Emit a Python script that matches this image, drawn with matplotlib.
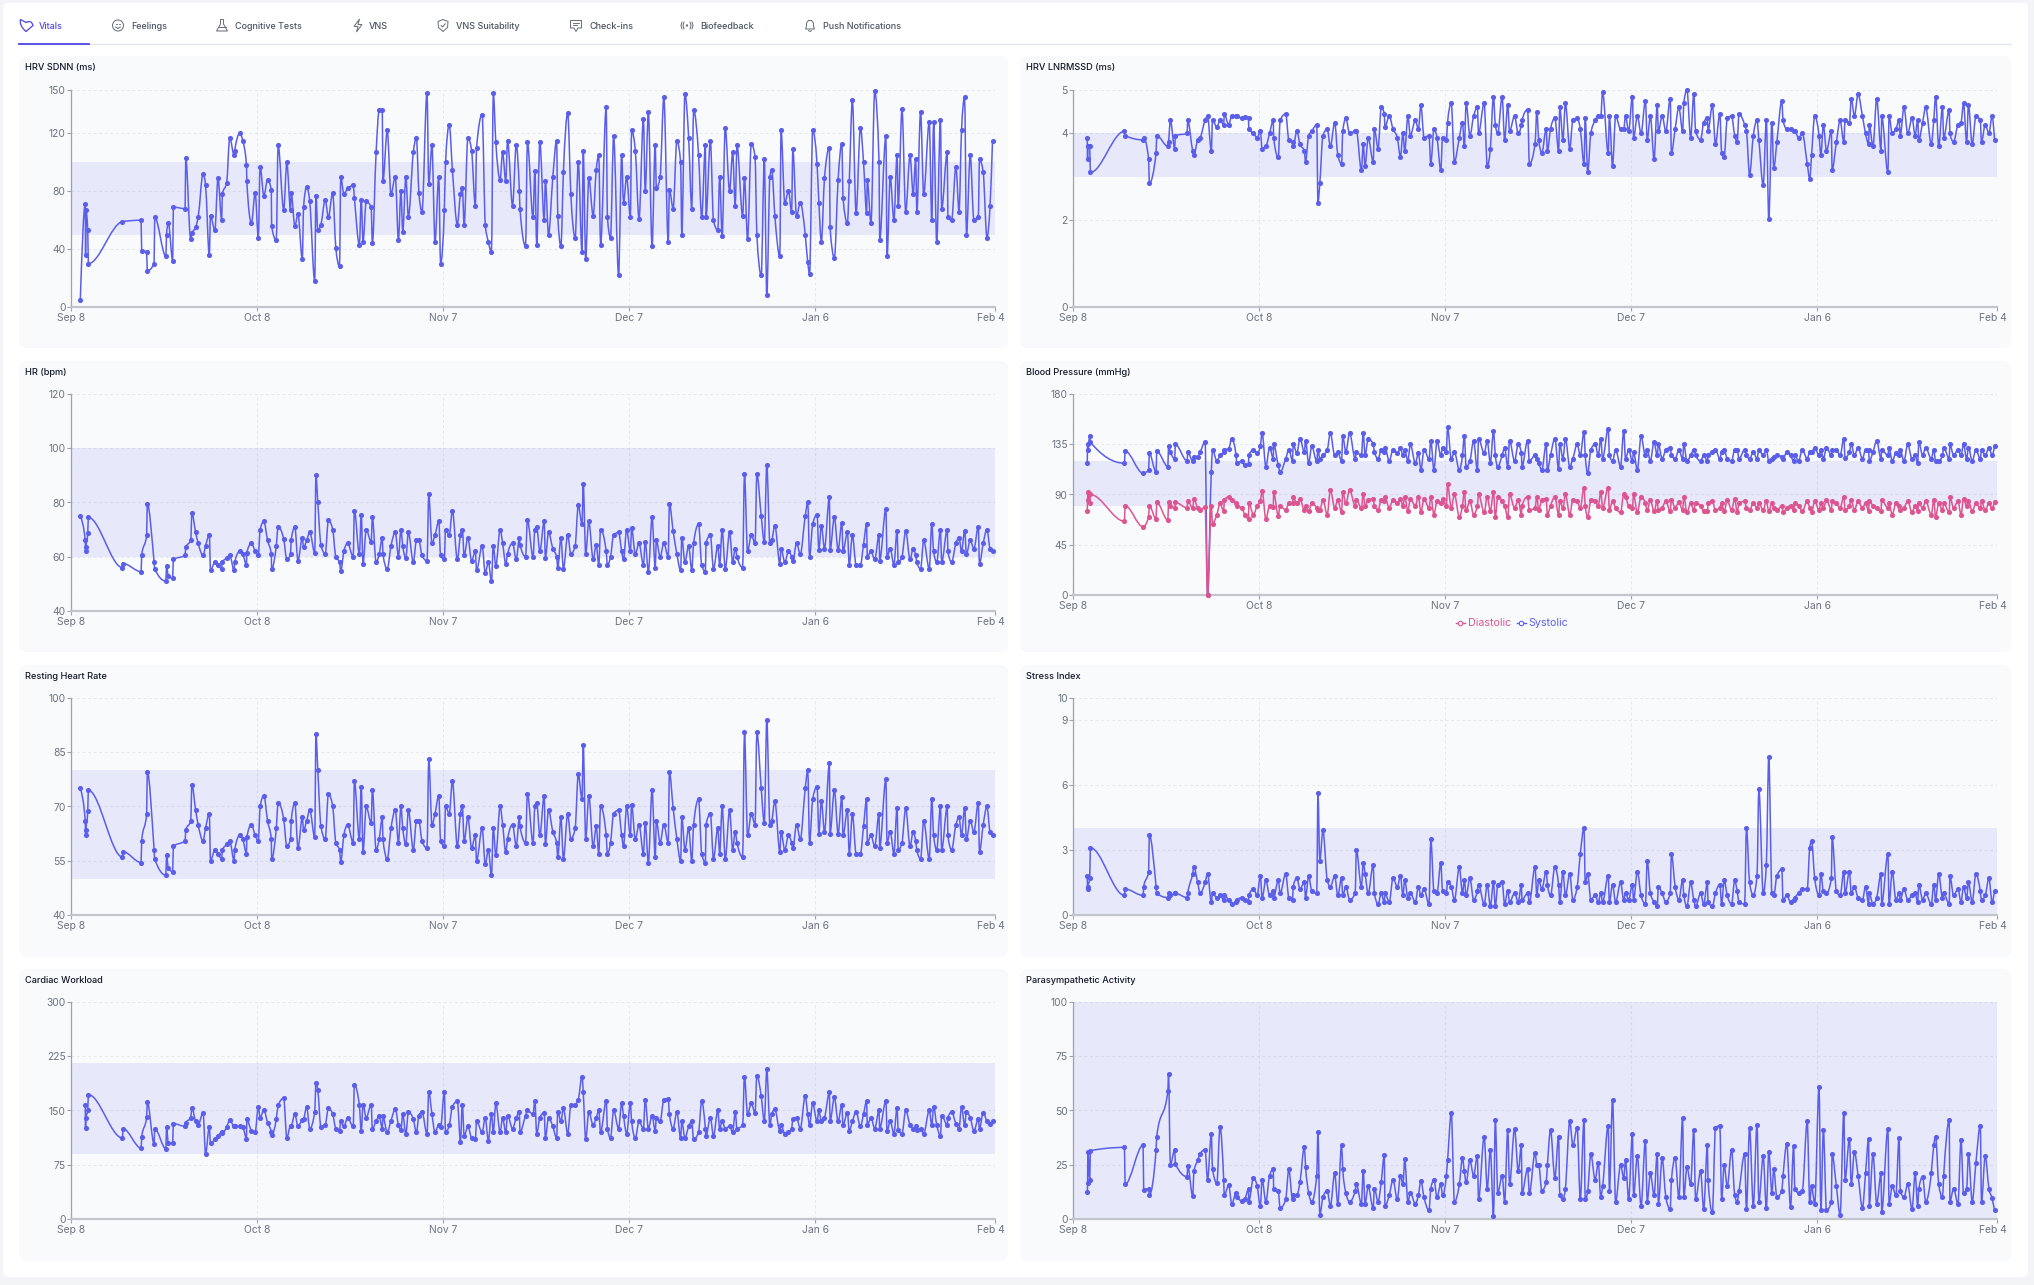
import numpy as np
import matplotlib
matplotlib.use("Agg")
import matplotlib.pyplot as plt
from matplotlib.path import Path
from matplotlib.patches import FancyBboxPatch, PathPatch, Circle, Polygon
from matplotlib.transforms import ScaledTranslation

plt.rcParams['font.family'] = ['Inter', 'DejaVu Sans']

nan = float('nan')

# days after Sep 8, all the metrics come from the same measurements
days = [1.5, 2.3, 2.35, 2.4, 2.7, 2.8, 8.3, 8.4, 11.3, 11.4, 12.2, 12.3, 13.4, 13.5, 15.3, 15.4, 15.7, 16.4, 16.5, 18.4, 18.5, 19.3, 19.5,
        20.1, 20.5, 21.3, 21.7, 22.3, 22.5, 23.2, 23.7, 24.3, 24.4, 25.1, 25.6, 26.3, 26.4, 27.2, 27.7, 28.3, 28.35, 29.1, 29.7,
        30.2, 30.5, 31.1, 31.7, 32.3, 32.35, 33.1, 33.4, 34.3, 34.8, 35.4, 35.5, 36.1, 36.6, 37.3, 37.5, 38.0, 38.5, 39.3, 39.5,
        39.8, 40.3, 41.0, 41.5, 42.2, 42.7, 43.3, 43.5, 44.0, 44.6, 45.5, 45.7, 46.5, 46.8, 47.1, 47.6, 48.4, 48.6, 49.2, 49.7,
        50.2, 50.3, 51.0, 51.6, 52.3, 52.8, 53.2, 53.5, 54.0, 54.4, 55.2, 55.7, 56.1, 56.6, 57.4, 57.7, 58.2, 58.7, 59.3, 59.6,
        60.2, 60.4, 61.0, 61.5, 62.3, 62.8, 63.1, 63.4, 64.0, 64.6, 65.2, 65.4, 66.3, 66.8, 67.3, 67.8, 68.1, 68.5, 69.2, 69.6,
        70.1, 70.4, 71.2, 71.8, 72.3, 72.4, 73.3, 73.6, 74.5, 74.8, 75.1, 75.6, 76.3, 76.5, 77.0, 77.7, 78.3, 78.5, 79.0, 79.4,
        80.1, 80.6, 81.3, 81.8, 82.4, 82.6, 83.0, 83.5, 84.2, 84.7, 85.1, 85.4, 86.3, 86.5, 87.0, 87.5, 88.3, 88.8, 89.1, 89.6,
        90.2, 90.4, 91.0, 91.6, 92.3, 92.6, 93.1, 93.7, 94.2, 94.4, 95.0, 95.6, 96.3, 96.5, 97.1, 97.7, 98.3, 98.5, 99.0, 99.6,
        100.1, 100.4, 101.2, 101.7, 102.3, 102.4, 103.1, 103.6, 104.3, 104.6, 105.0, 105.5, 106.2, 106.7, 107.1, 107.4, 108.3, 108.6, 109.1, 109.7,
        110.3, 110.6, 111.3, 111.8, 112.2, 112.7, 113.0, 113.5, 114.3, 114.5, 115.1, 115.7, 116.2, 116.4, 117.0, 117.6, 118.4, 118.8, 119.1, 119.6,
        120.3, 120.6, 121.0, 121.5, 122.3, 122.4, 123.1, 123.7, 124.3, 124.5, 125.2, 125.5, 126.0, 126.6, 127.3, 127.8, 128.3, 128.4, 129.0, 129.6,
        130.3, 130.4, 131.4, 131.6, 132.1, 132.7, 133.2, 133.4, 134.0, 134.6, 135.3, 135.8, 136.2, 136.4, 137.0, 137.5, 138.4, 138.8, 139.1, 139.6,
        140.2, 140.4, 141.3, 141.4, 142.0, 142.7, 143.2, 143.6, 144.1, 144.4, 145.0, 145.6, 146.3, 146.5, 147.1, 147.7, 148.2, 148.6]

hrv_sdnn = [5, 71, 36, 67, 53, 30, 59, nan, 60, 39, 38, 25, 30, 62, 35, 50, 58, 32, 69, 68, 103, 47, 51,
            55, 62, 92, 84, 36, 63, 53, 89, 60, 78, 86, 117, 105, 108, 120, 115, 98, 87, 58, 79,
            48, 97, 77, 88, 81, 56, 46, 112, 67, 100, 67, 79, 56, 64, 33, 69, 83, 73, 18, 77,
            53, 57, 74, 62, 79, 41, 28, 90, 78, 82, 84, 75, 43, 74, 45, 73, 69, 44, 107, 136,
            136, 87, 122, 78, 90, 46, 80, 52, 90, 62, 107, 117, 79, 66, 148, 85, 112, 45, 90, 30,
            67, 100, 126, 95, 57, 78, 82, 57, 117, 108, 70, 110, 133, 57, 45, 38, 148, 114, 88, 107,
            87, 115, 70, 112, 80, 68, 42, 114, 62, 94, 43, 114, 60, 87, 50, 90, 115, 63, 42, 93,
            134, 78, 48, 100, 38, 108, 33, 89, 63, 95, 105, 43, 138, 62, 48, 118, 22, 105, 72, 90,
            62, 122, 108, 61, 130, 80, 135, 42, 112, 82, 90, 145, 45, 81, 68, 115, 100, 50, 147, 117,
            68, 136, 105, 62, 112, 62, 115, 60, 53, 90, 49, 124, 80, 107, 70, 112, 63, 89, 47, 113,
            104, 50, 22, 102, 8, 90, 95, 63, 35, 122, 72, 80, 66, 109, 63, 72, 50, 31, 23, 122,
            99, 72, 45, 89, 110, 55, 34, 88, 113, 75, 58, 87, 143, 65, 124, 100, 65, 88, 58, 149,
            100, 46, 118, 35, 90, 60, 105, 70, 137, 66, 105, 78, 102, 66, 135, 78, 128, 60, 128, 45,
            129, 68, 107, 62, 60, 97, 66, 122, 145, 50, 105, 60, 62, 102, 93, 48, 70, 115]

hrv_lnrmssd = [nan, 3.9, 3.4, 3.7, 3.7, 3.1, 4.05, 3.95, 3.85, 3.9, 3.4, 2.85, 3.55, 3.95, 3.7, 3.8, 4.3, 3.65, 3.95, 4.0, 4.3, 3.6, 3.5,
               3.85, 3.9, 4.3, 4.4, 3.6, 4.3, 4.15, 4.3, 4.2, 4.45, 4.2, 4.4, 4.4, 4.4, 4.35, 4.38, 4.35, 4.1, 4.0, 3.9,
               4.05, 3.65, 3.7, 4.0, 4.3, 3.9, 3.45, 4.3, 4.45, 3.85, 3.8, 3.7, 4.05, 3.75, 3.6, 3.35, 3.95, 4.05, 4.2, 2.4,
               2.85, 3.95, 4.1, 3.7, 4.25, 3.5, 3.3, 4.05, 4.35, 4.0, 4.05, 4.05, 3.15, 3.75, 3.25, 3.9, 3.35, 4.1, 3.65, 4.6,
               4.45, 4.15, 4.4, 4.1, 3.9, 3.45, 4.0, 3.6, 4.4, 3.95, 4.3, 4.1, 4.65, 3.9, 3.95, 3.3, 4.1, 3.9, 3.15, 3.9,
               3.85, 4.25, 4.7, 3.35, 3.9, 4.25, 3.7, 4.7, 3.95, 4.4, 4.6, 4.0, 4.7, 3.25, 3.65, 4.85, 4.2, 4.0, 4.85, 3.85,
               4.65, 4.05, 4.4, 4.0, 4.2, 4.3, 4.55, 3.3, 3.75, 4.5, 3.85, 3.55, 4.1, 3.6, 4.1, 4.35, 3.6, 4.6, 3.85, 4.7,
               3.65, 4.3, 4.35, 4.1, 3.3, 4.35, 3.1, 4.0, 4.3, 4.4, 4.4, 4.95, 3.55, 4.4, 3.25, 4.4, 4.1, 4.1, 4.4, 4.05,
               4.85, 3.9, 4.4, 4.0, 4.75, 3.85, 4.4, 3.4, 4.65, 4.05, 4.4, 4.05, 4.8, 3.55, 4.1, 4.6, 4.05, 4.7, 5.0, 3.9,
               4.9, 4.05, 3.85, 4.25, 4.35, 4.05, 4.65, 3.75, 4.45, 3.55, 3.45, 4.35, 4.4, 3.95, 3.8, 4.45, 4.2, 4.05, 3.05, 3.95,
               4.3, 3.85, 2.8, 4.3, 2.02, 4.25, 3.2, 3.8, 4.75, 4.3, 4.1, 4.1, 4.05, 4.05, 3.9, 4.0, 3.3, 2.95, 3.5, 4.4,
               3.95, 3.5, 4.2, 3.6, 4.05, 3.15, 3.8, 4.3, 3.8, 4.3, 4.25, 4.8, 4.4, 4.9, 4.4, 4.0, 3.75, 4.2, 3.7, 4.8,
               3.6, 4.4, 3.1, 4.4, 4.0, 4.1, 4.3, 3.95, 4.6, 4.0, 4.35, 3.95, 4.3, 3.85, 4.25, 4.6, 3.75, 4.3, 4.85, 3.7,
               4.6, 3.9, 4.55, 4.0, 3.8, 4.2, 4.25, 4.7, 3.8, 4.65, 3.75, 4.4, 4.3, 3.8, 4.2, 4.0, 4.4, 3.85]

heart_rate = [75, 66, 62, 63.5, 68.7, 74.5, 56, 57.5, 54.5, 60.5, 68, 79.5, 58, 55.5, 51, 56.5, 53, 52, 59, 60.5, 63.5, 66, 76,
              69, 65, 60.5, 64, 68, 55, 58, 57, 55.5, 58, 59.5, 60.5, 55, 58, 62, 61, 57, 61.5, 65, 62,
              60.5, 70, 73, 66, 61, 55.5, 64, 71, 66.5, 59, 61, 66, 71, 58.5, 67, 63.5, 66, 69, 61.5, 90,
              80, 64.5, 61, 73.5, 70, 60, 58, 54.7, 62, 65, 60, 77, 61, 75.5, 57.5, 70, 65.5, 74.5, 58, 61,
              67, 61, 55.5, 64, 69, 60, 70, 64, 59.5, 69, 58, 66, 66, 60.5, 58.5, 83, 65, 68, 73, 60.5,
              59, 70, 68, 77, 59, 68, 70, 60.5, 67, 58.5, 62, 55, 64, 54, 58, 51, 64, 56.5, 70, 65,
              57.5, 61, 65, 59, 67, 64.5, 60, 73.5, 60, 70, 71, 62, 73, 59.5, 69, 63, 60, 56, 67, 55.5,
              68, 61, 64, 79, 72, 87, 61, 73, 59, 64.5, 57, 70, 62, 57, 60, 68, 69, 62, 59, 70,
              62, 70.5, 61, 65, 57, 65.5, 54.5, 74.5, 56, 66, 60, 65, 60, 79.5, 69.5, 61, 55, 67, 58, 64,
              55, 65, 72, 57, 54.5, 65, 68, 55.5, 64, 57, 70, 55.5, 69, 58, 63, 60, 56, 90.5, 62, 68,
              65, 90.5, 75, 65.5, 94, 65, 66, 71.5, 57.5, 63, 58, 62, 60, 58.5, 65, 61, 75, 80, 60, 72,
              75.5, 62.5, 71.5, 63, 82, 62.5, 74.5, 62.5, 72.5, 62, 69, 57, 68, 57, 57, 64.5, 72, 60, 62, 59,
              68, 58.5, 77.5, 60, 63, 57, 69.5, 58, 60, 69.5, 59, 63, 60.5, 58, 55.5, 66, 55.5, 72, 62, 58,
              70, 58, 70, 62, 58, 65, 67, 62, 69.5, 61, 66, 63, 71, 57.5, 65, 70, 63, 62]

systolic = [nan, 118, 135, 130, 142, 137, 118, 129, 109, nan, 112, 127, 110, 129, 115, 133, 128, 122, 135, 120, 128, 120, 124,
            124, 128, 137, 0, 110, 130, 120, 125, 128, 130, 131, 140, 125, 118, 120, 116, 117, 125, 130, 127,
            133, 145, 115, 132, 122, 135, 116, 110, 122, 130, 120, 135, 127, 140, 128, 138, 118, 133, 120, 130,
            122, 125, 130, 145, 125, 128, 120, 142, 128, 145, 122, 128, 125, 145, 125, 140, 135, 128, 122, 130,
            128, 132, 120, 130, 127, 132, 125, 130, 120, 135, 118, 127, 112, 130, 122, 138, 112, 138, 125, 132,
            128, 150, 122, 128, 112, 125, 142, 115, 120, 138, 112, 140, 127, 138, 118, 147, 125, 115, 125, 132,
            115, 138, 120, 135, 127, 115, 138, 120, 125, 122, 118, 112, 135, 112, 125, 140, 113, 135, 122, 140,
            115, 122, 135, 125, 146, 125, 109, 130, 135, 125, 140, 122, 149, 125, 120, 130, 115, 147, 122, 130,
            120, 128, 112, 142, 125, 130, 120, 137, 125, 135, 122, 130, 132, 125, 122, 130, 122, 135, 120, 125,
            130, 125, 120, 125, 120, 125, 128, 130, 122, 128, 130, 122, 120, 130, 130, 122, 130, 125, 122, 128,
            122, 130, 125, 130, 120, 122, 124, 125, 124, 122, 128, 125, 120, 125, 120, 130, 122, 128, 128, 132,
            125, 130, 122, 132, 125, 130, 130, 125, 140, 123, 128, 135, 125, 132, 122, 130, 130, 120, 128, 138,
            122, 130, 125, 132, 120, 127, 125, 130, 120, 135, 122, 125, 118, 137, 125, 132, 122, 130, 120, 120,
            125, 132, 122, 135, 125, 130, 125, 135, 122, 132, 120, 130, 122, 130, 125, 132, 125, 133]

diastolic = [nan, 75, 85, 92, 82, 90, 66, 80, 61, nan, 70, 80, 68, 83, 67, 83, 80, 78, 83, 78, 84, 78, 86,
             78, 76, 79, 0, 80, 64, 72, 82, 75, 85, 88, 85, 82, 80, 78, 72, 68, 82, 72, 80,
             84, 93, 68, 80, 79, 92, 71, 80, 76, 82, 82, 88, 82, 86, 76, 80, 75, 82, 78, 76,
             76, 85, 72, 94, 78, 85, 74, 92, 82, 94, 80, 85, 78, 90, 80, 85, 86, 80, 76, 85,
             84, 88, 78, 85, 82, 86, 80, 88, 75, 86, 80, 88, 74, 86, 78, 88, 72, 84, 82, 86,
             80, 99, 78, 90, 70, 80, 92, 76, 84, 72, 80, 90, 74, 88, 75, 92, 70, 88, 84, 80,
             70, 90, 78, 85, 72, 80, 88, 76, 78, 88, 76, 85, 86, 72, 80, 88, 72, 84, 78, 90,
             72, 85, 84, 78, 96, 80, 70, 85, 84, 80, 92, 78, 96, 76, 84, 78, 74, 90, 88, 80,
             78, 90, 74, 88, 82, 76, 85, 75, 84, 76, 78, 84, 75, 85, 78, 83, 76, 88, 74, 82,
             76, 82, 80, 75, 75, 82, 84, 76, 78, 82, 75, 85, 76, 86, 74, 82, 84, 78, 76, 82,
             78, 82, 76, 84, 75, 82, 78, 76, 80, 74, 78, 80, 76, 82, 80, 75, 84, 78, 74, 84,
             76, 82, 78, 85, 76, 84, 82, 78, 88, 76, 80, 85, 76, 84, 78, 82, 75, 84, 80, 78,
             75, 85, 78, 82, 72, 82, 80, 76, 78, 84, 74, 80, 75, 82, 78, 84, 72, 85, 70, 82,
             76, 82, 74, 88, 78, 84, 72, 86, 80, 84, 75, 82, 78, 84, 76, 82, 78, 83]

stress_index = [nan, 1.8, 1.2, 1.3, 1.7, 3.1, 0.9, 1.2, 0.9, 1.3, 2.0, 3.7, 1.3, 1.0, 0.8, 1.0, 0.9, 1.0, 1.0, 0.8, 1.0, 1.9, 2.2,
                1.5, 1.0, 1.5, 1.9, 0.6, 1.0, 0.8, 0.9, 0.7, 0.9, 0.7, 0.5, 0.6, 0.7, 0.8, 0.7, 0.6, 0.9, 1.2, 0.9,
                1.8, 0.8, 1.6, 0.9, 1.1, 0.8, 1.6, 1.0, 1.9, 0.8, 0.7, 1.3, 1.7, 1.2, 1.5, 0.8, 1.8, 1.1, 1.0, 5.6,
                2.5, 3.9, 1.6, 1.3, 1.8, 0.9, 1.7, 0.9, 1.3, 0.7, 1.0, 3.0, 1.3, 2.4, 1.9, 1.0, 2.3, 1.0, 0.5, 1.0,
                0.6, 1.0, 0.6, 1.7, 1.3, 1.8, 0.9, 1.6, 0.8, 1.0, 0.6, 1.3, 0.9, 1.2, 0.5, 3.5, 1.1, 1.0, 2.4, 1.1,
                1.0, 1.5, 1.3, 0.7, 2.2, 1.0, 1.6, 0.9, 1.7, 0.7, 1.1, 1.4, 0.5, 1.4, 0.4, 1.5, 0.4, 1.4, 1.5, 0.5,
                1.1, 0.6, 1.0, 0.6, 1.4, 0.7, 1.0, 0.6, 2.2, 0.9, 1.6, 1.2, 2.0, 1.4, 0.9, 2.2, 1.4, 0.6, 2.0, 0.9,
                1.9, 0.7, 1.3, 2.8, 4.0, 1.5, 1.9, 0.7, 0.9, 0.6, 1.0, 0.6, 1.8, 0.6, 1.4, 0.6, 1.5, 0.7, 1.0, 0.7,
                1.4, 0.7, 2.0, 0.9, 0.5, 2.5, 1.0, 0.6, 0.4, 1.3, 1.0, 0.6, 1.0, 2.8, 1.3, 0.7, 1.6, 0.9, 0.4, 1.5,
                0.7, 0.4, 1.0, 0.5, 1.5, 0.6, 0.4, 1.0, 1.4, 0.5, 1.6, 0.9, 0.5, 1.6, 1.1, 0.6, 0.5, 4.0, 1.5, 0.9,
                1.8, 5.8, 1.0, 2.3, 7.3, 1.0, 0.9, 1.8, 2.1, 0.7, 0.9, 0.6, 0.7, 0.8, 1.0, 1.2, 1.2, 3.1, 3.4, 1.7,
                0.9, 1.9, 1.1, 1.0, 1.7, 3.6, 1.1, 0.9, 2.0, 1.0, 2.0, 1.0, 1.3, 0.8, 0.7, 1.3, 0.5, 1.0, 0.5, 0.8,
                1.9, 0.5, 2.8, 0.5, 2.0, 0.7, 1.0, 0.7, 1.2, 0.7, 0.9, 1.0, 0.6, 1.4, 0.7, 1.0, 0.5, 1.4, 0.7, 1.9,
                0.8, 1.0, 0.5, 1.8, 0.9, 1.2, 0.6, 1.3, 0.8, 1.5, 0.6, 1.9, 1.1, 0.7, 0.9, 1.7, 0.6, 1.1]

cardiac_workload = [nan, 157, 126, 140, 150, 172, 112, 125, 98, 113, 141, 162, 104, 125, 97, 127, 105, 105, 132, 128, 133, 140, 153,
                    135, 130, 147, 90, 127, 105, 110, 115, 120, 119, 127, 137, 128, 128, 128, 127, 111, 138, 122, 120,
                    155, 140, 151, 133, 120, 116, 138, 157, 167, 112, 129, 129, 145, 128, 137, 138, 155, 125, 148, 188,
                    178, 127, 130, 153, 145, 125, 122, 135, 128, 140, 128, 185, 157, 122, 158, 140, 158, 125, 135, 142,
                    125, 142, 120, 136, 152, 130, 123, 145, 117, 148, 138, 120, 143, 148, 118, 176, 145, 120, 130, 127,
                    176, 120, 130, 155, 163, 107, 158, 115, 128, 112, 110, 135, 120, 140, 108, 145, 120, 160, 120, 140,
                    120, 143, 125, 140, 148, 120, 143, 150, 145, 163, 118, 140, 147, 112, 140, 128, 112, 148, 135, 153,
                    118, 157, 158, 165, 197, 175, 110, 148, 130, 140, 150, 120, 163, 125, 112, 150, 125, 160, 142, 118,
                    160, 135, 112, 135, 125, 165, 125, 143, 122, 140, 135, 165, 166, 145, 125, 148, 112, 135, 112, 128,
                    135, 110, 120, 163, 125, 115, 140, 115, 150, 125, 135, 125, 128, 120, 148, 125, 130, 197, 145, 160,
                    147, 198, 170, 135, 207, 130, 145, 152, 122, 130, 118, 120, 125, 138, 140, 125, 170, 145, 130, 160,
                    135, 150, 135, 140, 175, 135, 168, 135, 158, 130, 147, 122, 135, 148, 128, 145, 163, 130, 140, 125,
                    150, 125, 163, 122, 135, 118, 153, 123, 118, 150, 130, 125, 128, 123, 125, 118, 150, 130, 155, 130,
                    115, 143, 130, 140, 148, 132, 125, 155, 130, 148, 140, 122, 138, 125, 147, 135, 132, 136]

parasympathetic = [nan, 12.5, 16.5, 31, 18, 31.5, 33, 16, 34, 13.5, 14, 11, 32, 38, 59, 67, 25, 32, 25.5, 19.5, 24.5, 10.5, 22,
                   27, 30, 32, 18, 39, 23, 16.5, 42.5, 18, 11, 15.5, 7, 12, 10, 8.5, 9, 14, 8, 19, 15,
                   6, 18, 8, 20, 23, 14, 13, 5, 9, 23, 9, 11, 11, 17, 33, 24, 12, 8, 20, 40,
                   2, 10, 13, 6, 21, 7, 34, 23, 12, 8, 13, 16, 7, 22, 7, 15, 5, 14, 8, 17,
                   29.5, 6, 11, 18, 9, 20, 16, 27.5, 8, 12, 7, 11, 17.5, 10, 4, 14, 18, 10, 16, 11,
                   20, 27, 49, 8, 16, 28, 22, 17, 27, 20, 29, 9, 38, 14, 32, 1.5, 45.5, 12, 20, 8,
                   41, 16, 41.5, 22, 34, 12, 23, 12, 30.5, 25, 25, 13, 17, 25, 41, 19, 38, 11, 9, 14,
                   45, 34, 42, 9, 45.5, 9, 13, 30, 18, 26, 10, 15, 43, 13, 55, 8, 25, 19, 27, 9,
                   39, 11, 29, 6, 36, 8, 21, 11, 30, 7, 28, 10, 4.5, 18, 28, 10, 46.5, 10, 24, 16,
                   41, 9, 22, 4.5, 34, 18, 3, 42, 43, 9, 25, 15, 32, 11, 8, 13, 30, 4.5, 42, 6,
                   43.5, 8, 29, 5, 31, 12, 23, 10, 13, 20, 34.5, 5.5, 33.5, 14, 12, 13, 45, 8, 15, 7,
                   61, 4, 41, 4, 8, 30, 15, 2, 49, 18, 37, 16, 31, 20, 5, 21, 37, 6, 30, 7,
                   21, 3, 41.5, 7, 15, 11, 37.5, 13, 10, 16, 4.5, 21, 6, 14, 19.5, 8, 21, 34, 38, 16,
                   10, 20, 45.5, 8, 14, 7, 36.5, 12, 14, 30, 8, 26, 43, 8, 29, 14, 9.5, 4]

date_ticks = [0, 30, 60, 90, 120, 149]
date_labels = ['Sep 8', 'Oct 8', 'Nov 7', 'Dec 7', 'Jan 6', 'Feb 4']

tab_names = ['Vitals', 'Feelings', 'Cognitive Tests', 'VNS', 'VNS Suitability', 'Check-ins', 'Biofeedback', 'Push Notifications']
tab_text_x = [39, 131, 235, 369, 456, 589, 700, 823]
tab_icon_x = [26, 118, 222, 358, 443, 576, 687, 810]

INDIGO = '#5a5ee8'
PINK = '#dc5590'
GRID = '#e6e8ec'
TICK = '#6b7280'
W, H = 2034, 1285


def px(size):
    return size * 72 / 100


def monotone_path(x, y):
    # same curve as a monotone d3 line, so the sparse part stays rounded
    x = np.asarray(x, float)
    y = np.asarray(y, float)
    h = np.diff(x)
    s = np.diff(y) / h
    t = np.zeros(len(x))
    for i in range(1, len(x) - 1):
        p = (s[i - 1] * h[i] + s[i] * h[i - 1]) / (h[i - 1] + h[i])
        t[i] = (np.sign(s[i - 1]) + np.sign(s[i])) * min(abs(s[i - 1]), abs(s[i]), 0.5 * abs(p))
    t[0] = (3 * s[0] - t[1]) / 2
    t[-1] = (3 * s[-1] - t[-2]) / 2
    verts = [(x[0], y[0])]
    codes = [Path.MOVETO]
    for i in range(len(h)):
        d = h[i] / 3
        verts += [(x[i] + d, y[i] + d * t[i]), (x[i + 1] - d, y[i + 1] - d * t[i + 1]), (x[i + 1], y[i + 1])]
        codes += [Path.CURVE4, Path.CURVE4, Path.CURVE4]
    return Path(verts, codes)


def draw_series(ax, values, color):
    x = np.array(days)
    y = np.array(values, float)
    keep = ~np.isnan(y)
    x, y = x[keep], y[keep]
    ax.add_patch(PathPatch(monotone_path(x, y), fill=False, edgecolor=color, lw=1.1, zorder=4, clip_on=False))
    ax.plot(x, y, 'o', ms=3.7, mew=0, color=color, zorder=5, clip_on=False)


def make_chart(left, right, top, bottom, yticks, band, series, colors=(INDIGO,)):
    ax = fig.add_axes([left / W, 1 - bottom / H, (right - left) / W, (bottom - top) / H])
    ax.patch.set_alpha(0)
    ax.set_xlim(0, 149)
    ax.set_ylim(yticks[0], yticks[-1])
    ax.axhspan(band[0], band[1], color='#4a50ea', alpha=0.1, lw=0, zorder=1)
    ax.set_xticks(date_ticks)
    ax.set_xticklabels(date_labels)
    ax.set_yticks(yticks)
    ax.grid(True, color=GRID, lw=0.8, ls=(0, (2.5, 2.5)), zorder=0)
    ax.set_axisbelow(True)
    for side in ['top', 'right']:
        ax.spines[side].set_visible(False)
    ax.spines['left'].set_color('#9ca3af')
    ax.spines['left'].set_linewidth(0.9)
    ax.spines['bottom'].set_color('#c3c5cc')
    ax.spines['bottom'].set_linewidth(1.6)
    ax.spines['bottom'].set_zorder(3)
    ax.tick_params(axis='both', labelsize=px(10.3), labelcolor=TICK, color='#9ca3af', length=2.6, width=0.8)
    ax.tick_params(axis='x', pad=1.5)
    ax.tick_params(axis='y', pad=1.2)
    last = ax.get_xticklabels()[-1]
    last.set_transform(last.get_transform() + ScaledTranslation(-4.5 / 100, 0, fig.dpi_scale_trans))
    for values, color in zip(series, colors):
        draw_series(ax, values, color)
    return ax


def draw_icons(page):
    gray = dict(color='#6b7280', lw=0.75, solid_capstyle='round')
    cy = 25.5
    # heart
    cx = tab_icon_x[0]
    heart = Path([(cx, cy + 6), (cx - 7, cy), (cx - 5.5, cy - 6), (cx, cy - 3), (cx + 5.5, cy - 6), (cx + 7, cy), (cx, cy + 6)],
                 [Path.MOVETO, Path.CURVE3, Path.CURVE3, Path.LINETO, Path.CURVE3, Path.CURVE3, Path.LINETO])
    page.add_patch(PathPatch(heart, fill=False, edgecolor='#4f46e5', lw=0.9))
    # face
    cx = tab_icon_x[1]
    page.add_patch(Circle((cx, cy), 5.5, fill=False, edgecolor='#6b7280', lw=0.75))
    page.plot([cx - 2, cx - 1], [cy - 1.5, cy - 1.5], **gray)
    page.plot([cx + 1, cx + 2], [cy - 1.5, cy - 1.5], **gray)
    page.plot([cx - 2.5, cx, cx + 2.5], [cy + 1.5, cy + 3, cy + 1.5], **gray)
    # flask
    cx = tab_icon_x[2]
    page.add_patch(Polygon([(cx - 1.5, cy - 6), (cx - 1.5, cy - 1.5), (cx - 5.5, cy + 5.5), (cx + 5.5, cy + 5.5), (cx + 1.5, cy - 1.5), (cx + 1.5, cy - 6)],
                           fill=False, edgecolor='#6b7280', lw=0.75))
    page.plot([cx - 3.5, cx + 3.5], [cy + 1.5, cy + 1.5], **gray)
    # bolt
    cx = tab_icon_x[3]
    page.add_patch(Polygon([(cx + 1.5, cy - 6.5), (cx - 4, cy + 1), (cx, cy + 1), (cx - 1.5, cy + 6.5), (cx + 4, cy - 1), (cx, cy - 1)],
                           fill=False, edgecolor='#6b7280', lw=0.75))
    # shield
    cx = tab_icon_x[4]
    page.add_patch(Polygon([(cx, cy - 6), (cx + 5, cy - 4), (cx + 4.5, cy + 2), (cx, cy + 6), (cx - 4.5, cy + 2), (cx - 5, cy - 4)],
                           fill=False, edgecolor='#6b7280', lw=0.75))
    page.plot([cx - 2, cx - 0.5, cx + 2.3], [cy, cy + 1.5, cy - 1.8], **gray)
    # speech box
    cx = tab_icon_x[5]
    page.add_patch(Polygon([(cx - 5.5, cy - 5), (cx + 5.5, cy - 5), (cx + 5.5, cy + 2.5), (cx + 2, cy + 2.5), (cx, cy + 6), (cx - 2, cy + 2.5), (cx - 5.5, cy + 2.5)],
                           fill=False, edgecolor='#6b7280', lw=0.75))
    page.plot([cx - 3, cx + 3], [cy - 2, cy - 2], **gray)
    page.plot([cx - 3, cx + 1], [cy, cy], **gray)
    # signal
    cx = tab_icon_x[6]
    page.add_patch(Circle((cx, cy), 1.2, fill=True, color='#6b7280', lw=0))
    for dx, sign in [(3, 1), (5, 1), (-3, -1), (-5, -1)]:
        page.plot([cx + dx, cx + dx + sign * 1, cx + dx], [cy - 3.5, cy, cy + 3.5], **gray)
    # bell
    cx = tab_icon_x[7]
    page.add_patch(Polygon([(cx - 4.5, cy + 3.5), (cx - 3.5, cy + 1), (cx - 3.5, cy - 2.5), (cx - 1.5, cy - 5), (cx + 1.5, cy - 5), (cx + 3.5, cy - 2.5), (cx + 3.5, cy + 1), (cx + 4.5, cy + 3.5)],
                           fill=False, edgecolor='#6b7280', lw=0.75))
    page.plot([cx - 1.5, cx, cx + 1.5], [cy + 5, cy + 6, cy + 5], **gray)


fig = plt.figure(figsize=(20.3401, 12.8501), dpi=100, facecolor='#f3f4f6')

page = fig.add_axes([0, 0, 1, 1])
page.set_xlim(0, W)
page.set_ylim(H, 0)
page.axis('off')

page.add_patch(FancyBboxPatch((3, 3), 2025, 1274, boxstyle='round,pad=0,rounding_size=5', fc='white', ec='none'))
page.plot([19, 2011], [44, 44], color='#e5e7eb', lw=1)
page.plot([19, 89], [44, 44], color='#4f46e5', lw=1.3)

for i in range(len(tab_names)):
    color = '#4f46e5' if i == 0 else '#4b5563'
    page.text(tab_text_x[i], 26, tab_names[i], fontsize=px(9), color=color, va='center', ha='left', weight='medium')
draw_icons(page)

card_left = [(19, 1008), (1020, 2011)]
card_rows = [(56, 348), (361, 652), (665, 957), (969, 1261)]
titles = [['HRV SDNN (ms)', 'HRV LNRMSSD (ms)'],
          ['HR (bpm)', 'Blood Pressure (mmHg)'],
          ['Resting Heart Rate', 'Stress Index'],
          ['Cardiac Workload', 'Parasympathetic Activity']]
for r in range(4):
    for c in range(2):
        x0, x1 = card_left[c]
        y0, y1 = card_rows[r]
        page.add_patch(FancyBboxPatch((x0, y0), x1 - x0, y1 - y0, boxstyle='round,pad=0,rounding_size=8', fc='#f9fafc', ec='none'))
        page.text(x0 + 5.5, y0 + 11.5, titles[r][c], fontsize=px(9.2), color='#111827', va='center', ha='left', weight='medium')

make_chart(71, 995, 90, 307, [0, 40, 80, 120, 150], (50, 100), [hrv_sdnn])
make_chart(1073, 1997, 90, 307, [0, 2, 4, 5], (3, 4), [hrv_lnrmssd])
make_chart(71, 995, 394, 611, [40, 60, 80, 100, 120], (60, 100), [heart_rate])
make_chart(1073, 1997, 394, 595, [0, 45, 90, 135, 180], (80, 120), [systolic, diastolic], (INDIGO, PINK))
make_chart(71, 995, 698, 915, [40, 55, 70, 85, 100], (50, 80), [heart_rate])
make_chart(1073, 1997, 698, 915, [0, 3, 6, 9, 10], (0, 4), [stress_index])
make_chart(71, 995, 1002, 1219, [0, 75, 150, 225, 300], (90, 216), [cardiac_workload])
make_chart(1073, 1997, 1002, 1219, [0, 25, 50, 75, 100], (0, 100), [parasympathetic])

# legend of the blood pressure chart
for mark_x, text_x, name, color in [(1460, 1468, 'Diastolic', PINK), (1521, 1528, 'Systolic', INDIGO)]:
    page.plot([mark_x - 4.5, mark_x + 4.5], [623, 623], color=color, lw=1)
    page.plot([mark_x], [623], 'o', ms=3.2, mfc='white', mec=color, mew=0.8)
    page.text(text_x, 623, name, fontsize=px(10.7), color=color, va='center', ha='left')

fig.savefig("out.png", dpi=100, facecolor=fig.get_facecolor())
